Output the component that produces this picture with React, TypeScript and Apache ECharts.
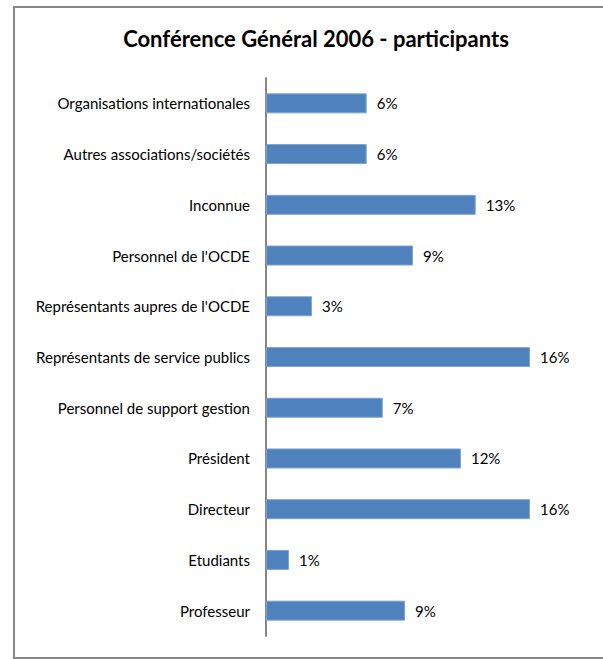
import React, { useEffect, useRef } from "react";
import * as echarts from "echarts";

const categories = [
  "Organisations internationales",
  "Autres associations/sociétés",
  "Inconnue",
  "Personnel de l'OCDE",
  "Représentants aupres de l'OCDE",
  "Représentants de service publics",
  "Personnel de support gestion",
  "Président",
  "Directeur",
  "Etudiants",
  "Professeur",
];
const values = [6.27, 6.27, 13.06, 9.15, 2.86, 16.44, 7.27, 12.14, 16.44, 1.43, 8.66];
const titleText = "Conférence Général 2006 - participants";

const FONT = "Lato, 'Liberation Sans Narrow', 'DejaVu Sans Condensed', sans-serif";

export default function App() {
  const ref = useRef<HTMLDivElement>(null);
  useEffect(() => {
    const chart = echarts.init(ref.current!, null, { renderer: "svg" });
    chart.setOption({
      animation: false,
      backgroundColor: "#ffffff",
      title: {
        text: titleText,
        left: 311,
        textAlign: "center",
        top: 22,
        textStyle: { fontFamily: FONT, fontSize: 22, fontWeight: "bold", color: "#000" },
      },
      graphic: [
        {
          type: "rect",
          shape: { x: 14, y: 7, width: 640, height: 651 },
          style: { fill: "none", stroke: "#888888", lineWidth: 2 },
          silent: true,
        },
      ],
      grid: { left: 266, top: 78, bottom: 23, width: 321.2, containLabel: false },
      xAxis: {
        type: "value",
        min: 0,
        max: 20,
        show: false,
        splitLine: { show: false },
      },
      yAxis: {
        type: "category",
        data: categories,
        inverse: true,
        axisLine: { show: true, lineStyle: { color: "#868686", width: 2 } },
        axisTick: { show: false },
        axisLabel: { fontFamily: FONT, fontSize: 15, color: "#000", margin: 16 },
      },
      series: [
        {
          type: "bar",
          data: values,
          barWidth: 20,
          itemStyle: { color: "#4F81BD", borderColor: "#7EA3D2", borderWidth: 1 },
          label: {
            show: true,
            position: "right",
            distance: 10,
            fontFamily: FONT,
            fontSize: 15,
            color: "#000",
            formatter: (p: any) => Math.round(p.value) + "%",
          },
        },
      ],
    });
    return () => chart.dispose();
  }, []);
  return (
    <div
      ref={ref}
      style={{ position: "fixed", left: 0, top: 0, width: 603, height: 659 }}
    />
  );
}
